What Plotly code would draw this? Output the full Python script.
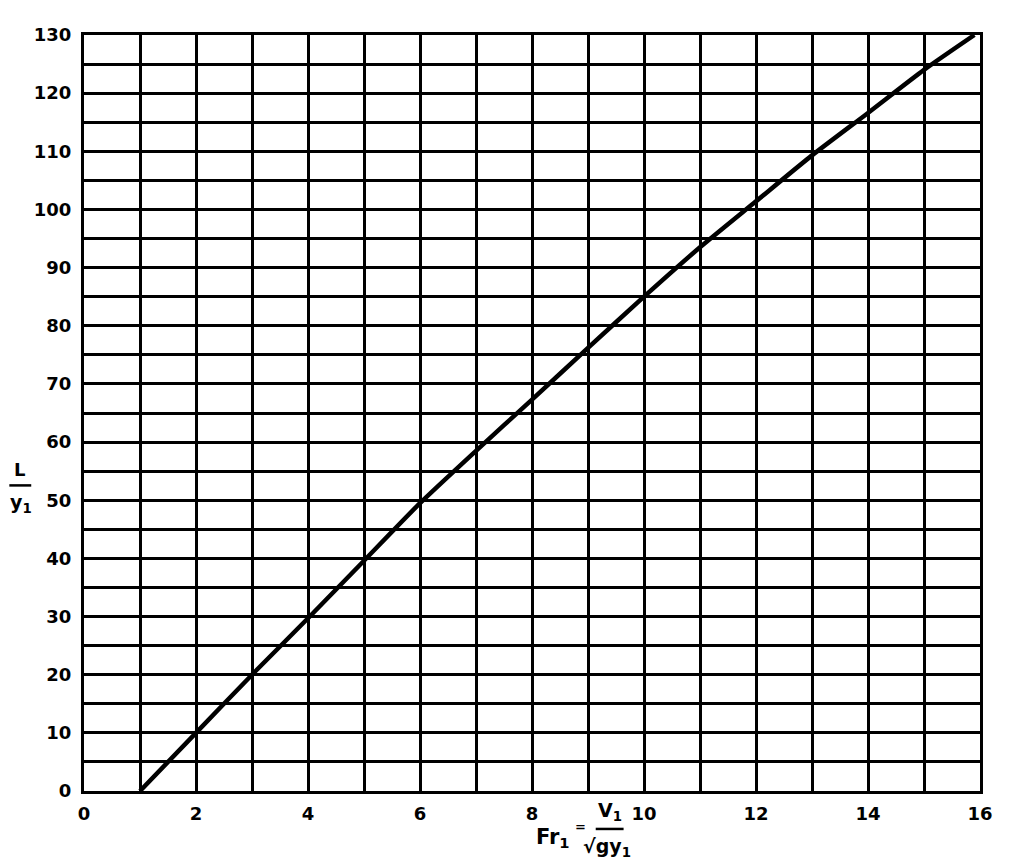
import plotly.graph_objects as go

fr1 = [1, 2, 3, 4, 5, 6, 7, 8, 9, 10, 11, 12, 13, 14, 15, 15.9]
l_over_y1 = [0, 10, 20, 29.7, 39.6, 49.5, 58.5, 67.3, 76.2, 85.0, 93.5, 101.4, 109.3, 116.6, 124.0, 130]

x_ticks = [0, 2, 4, 6, 8, 10, 12, 14, 16]
y_ticks = [0, 10, 20, 30, 40, 50, 60, 70, 80, 90, 100, 110, 120, 130]

W, H = 1024, 866
# target plot-area edges in the picture (pixels)
L, R, T, B = 82, 982, 34, 791
# observed rendering offsets (page offset)
OX_L, OX_R, OY_T, OY_B = 6, 10, 7, 8

def px(x):
    return (x - L) / (R - L)

def py(y):
    return (B - y) / (B - T)

FONT = "DejaVu Sans"

fig = go.Figure()
fig.add_trace(go.Scatter(x=fr1, y=l_over_y1, mode="lines",
                         line=dict(color="black", width=4.5, shape="spline", smoothing=0.6),
                         showlegend=False))

fig.update_layout(
    width=W, height=H,
    margin=dict(l=L - OX_L, r=W - R + OX_R, t=T - OY_T, b=H - B + OY_B),
    plot_bgcolor="white", paper_bgcolor="white",
    font=dict(family=FONT, size=18, color="black"),
)
fig.update_xaxes(range=[0, 16], tickvals=x_ticks, ticktext=[str(v) for v in x_ticks],
                 showgrid=True, gridcolor="black", gridwidth=2.5,
                 minor=dict(dtick=1, showgrid=True, gridcolor="black", gridwidth=2.5),
                 showline=True, linecolor="black", linewidth=3, mirror=True,
                 zeroline=False, ticks="", ticklabelstandoff=4,
                 tickfont=dict(family=FONT, size=18, color="black", weight="bold"))
fig.update_yaxes(range=[0, 130], tickvals=y_ticks, ticktext=[str(v) for v in y_ticks],
                 showgrid=True, gridcolor="black", gridwidth=2.5,
                 minor=dict(dtick=5, showgrid=True, gridcolor="black", gridwidth=2.5),
                 showline=True, linecolor="black", linewidth=3, mirror=True,
                 zeroline=False, ticks="", ticklabelstandoff=6,
                 tickfont=dict(family=FONT, size=18, color="black", weight="bold"))

ann = []
def txt(text, x, y, size=18, xanchor="center"):
    ann.append(dict(text=text, x=px(x), y=py(y), xref="paper", yref="paper",
                    showarrow=False, xanchor=xanchor, yanchor="middle",
                    font=dict(family=FONT, size=size, color="black", weight="bold")))

# y-axis title L / y1
txt("L", 17, 469)
txt("y<sub>1</sub>", 19, 503, size=19)
# x-axis title Fr1 = V1 / sqrt(gy1)
txt("Fr<sub>1</sub>", 553, 838, size=21)
txt("=", 581, 827, size=13)
txt("V<sub>1</sub>", 610, 812, size=19)
txt("√gy<sub>1</sub>", 607, 848, size=19)
fig.update_layout(annotations=ann)

fig.add_shape(type="line", xref="paper", yref="paper",
              x0=px(7), x1=px(29), y0=py(485), y1=py(485),
              line=dict(color="black", width=2.5))
fig.add_shape(type="line", xref="paper", yref="paper",
              x0=px(596), x1=px(624), y0=py(829), y1=py(829),
              line=dict(color="black", width=2.5))

fig.write_html("out.html")
